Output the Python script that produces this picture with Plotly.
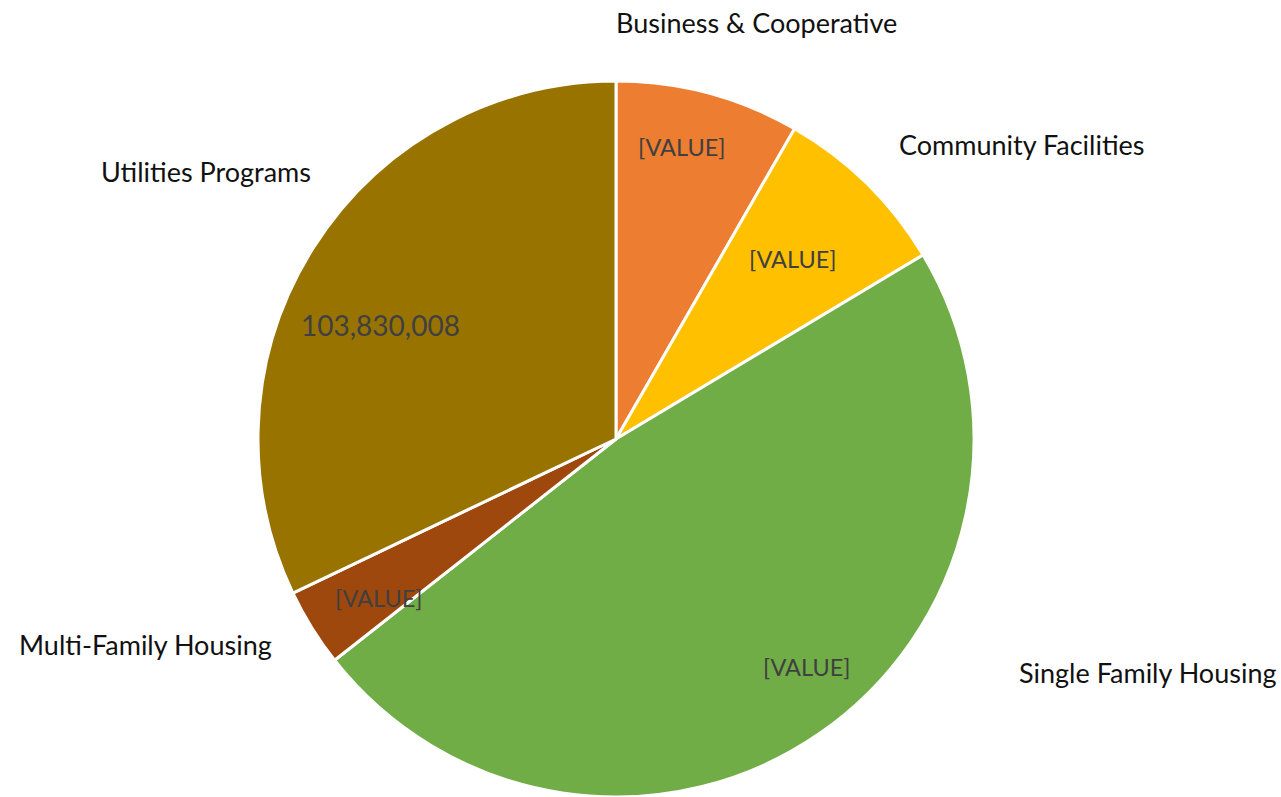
import plotly.graph_objects as go

W, H = 1281, 797

categories = ["Business & Cooperative", "Community Facilities", "Single Family Housing",
              "Multi-Family Housing", "Utilities Programs"]
values = [26900000, 26200000, 155300000, 11400000, 103830008]
value_labels = ["[VALUE]", "[VALUE]", "[VALUE]", "[VALUE]", "103,830,008"]
colors = ["#ED7D31", "#FFC000", "#70AD47", "#9E480E", "#997300"]

# label placement (pixels from top-left): name labels and value labels
name_pos = [(614, 22), (897, 144), (1017, 672), (17, 644), (99, 172)]
value_pos = [(636, 147), (747, 259), (761, 667), (333, 598), (299, 325)]
value_sizes = [23.5, 23.5, 23.5, 23.5, 28]

FONT = "Lato"

fig = go.Figure(go.Pie(
    labels=categories,
    values=values,
    sort=False,
    direction="clockwise",
    rotation=0,
    marker=dict(colors=colors, line=dict(color="white", width=3)),
    textinfo="none",
    hoverinfo="label+value",
    domain=dict(x=[(616 - 358) / W, (616 + 358) / W], y=[0, 716 / H]),
    showlegend=False,
))

annotations = []
for name, (px, py) in zip(categories, name_pos):
    annotations.append(dict(
        text=name, x=px / W, y=1 - py / H, xref="paper", yref="paper",
        xanchor="left", yanchor="middle", showarrow=False,
        font=dict(family=FONT, size=27, color="#111111"),
    ))
for lab, (px, py), sz in zip(value_labels, value_pos, value_sizes):
    annotations.append(dict(
        text=lab, x=px / W, y=1 - py / H, xref="paper", yref="paper",
        xanchor="left", yanchor="middle", showarrow=False,
        font=dict(family=FONT, size=sz, color="#404040"),
    ))

fig.update_layout(
    width=W, height=H,
    margin=dict(l=0, r=0, t=0, b=0),
    paper_bgcolor="white",
    plot_bgcolor="white",
    annotations=annotations,
    font=dict(family=FONT),
)

fig.write_html("out.html", config={"displayModeBar": False},
               post_script="document.body.style.margin='0';document.body.style.overflow='hidden';")
